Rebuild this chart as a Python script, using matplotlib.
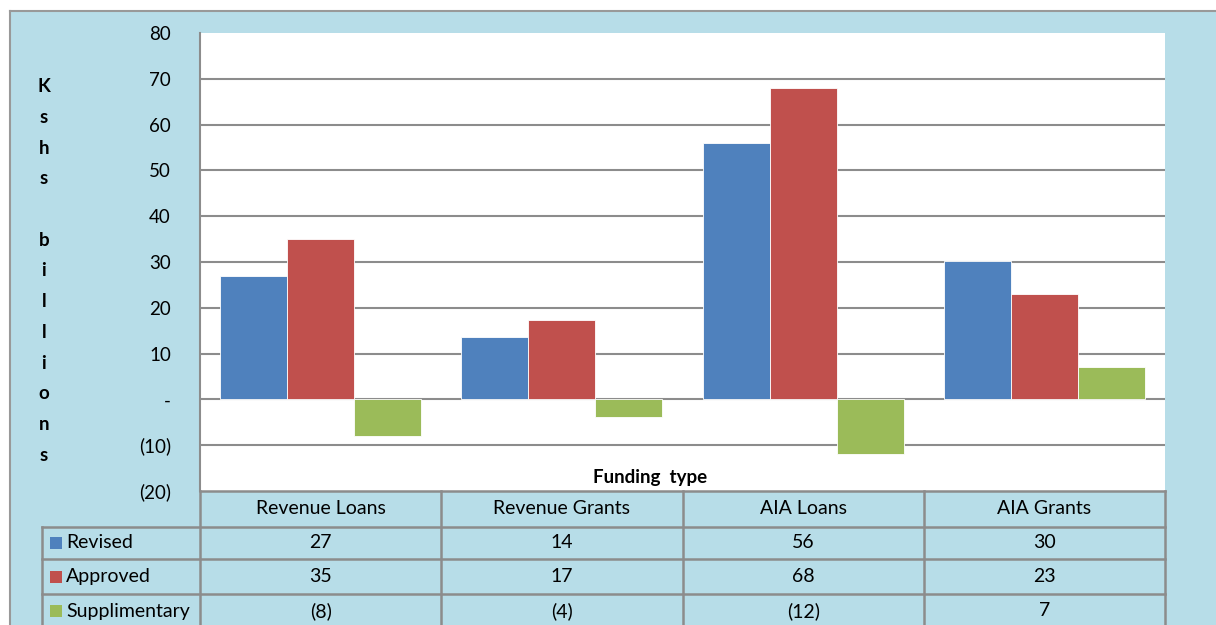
import matplotlib.pyplot as plt
from matplotlib.lines import Line2D
from matplotlib.patches import Rectangle
import matplotlib.transforms as mtransforms
import numpy as np

plt.rcParams['font.family'] = ['Lato', 'DejaVu Sans']

categories = ["Revenue Loans", "Revenue Grants", "AIA Loans", "AIA Grants"]
series_names = ["Revised", "Approved", "Supplimentary"]
revised = [26.9, 13.6, 56.0, 30.2]
approved = [35.0, 17.4, 68.0, 23.0]
supplementary = [-8.0, -3.8, -11.9, 7.1]
colors = ["#4f81bd", "#c0504d", "#9bbb59"]
yticks = [-20, -10, 0, 10, 20, 30, 40, 50, 60, 70, 80]

bg = "#b7dde8"
grid_col = "#8c8c8c"
W, H = 1216, 625


def fx(x):
    return x / W


def fy(y):
    return 1 - y / H


def fmt(v):
    if v == 0:
        return "-"
    if v < 0:
        return "(%d)" % round(-v)
    return "%d" % round(v)


fig = plt.figure(figsize=(W / 100, H / 100), dpi=100)
fig.patch.set_facecolor("white")

# light blue chart background with grey frame
fig.add_artist(Rectangle((fx(10), 0), 1 - fx(10), fy(11), transform=fig.transFigure,
                         facecolor=bg, edgecolor="none", zorder=0))
fig.add_artist(Line2D([fx(10), fx(10)], [0, fy(11)], transform=fig.transFigure, color="#999999", lw=1.5))
fig.add_artist(Line2D([fx(10), 1], [fy(11), fy(11)], transform=fig.transFigure, color="#999999", lw=1.5))

ax = fig.add_axes([fx(200), fy(491), fx(1165) - fx(200), fy(33) - fy(491)])
ax.set_facecolor("white")

x = np.arange(len(categories))
w = 0.278
all_series = [revised, approved, supplementary]
for i, (vals, c) in enumerate(zip(all_series, colors)):
    ax.bar(x + (i - 1) * w, vals, width=w, color=c, edgecolor="white", linewidth=0.6, zorder=3)

ax.set_xlim(-0.5, len(categories) - 0.5)
ax.set_ylim(-20, 80)
ax.set_yticks(yticks)
ax.set_yticklabels([fmt(v) for v in yticks], fontsize=13.5)
ax.tick_params(axis="y", length=0, pad=21)
ax.set_xticks([])
for yv in yticks[1:-1]:
    ax.axhline(yv, color=grid_col, lw=1.5, zorder=1)
for s in ["top", "right", "bottom"]:
    ax.spines[s].set_visible(False)
ax.spines["left"].set_color(grid_col)
ax.spines["left"].set_linewidth(1.5)

fig.text(fx(650), fy(478), "Funding  type", ha="center", va="center", fontsize=13.5,
         fontweight="bold")

# vertical axis title, one letter per line
fig.text(fx(44), fy(271), "\n".join(list("Kshs billions")), ha="center", va="center",
         fontsize=13.5, fontweight="bold", linespacing=1.98)

# data table below the plot
tb = mtransforms.blended_transform_factory(ax.transData, fig.transFigure)
line_kw = dict(transform=fig.transFigure, color=grid_col, lw=1.8, clip_on=False)
fig.add_artist(Line2D([fx(200), fx(1165)], [fy(491), fy(491)], **line_kw))
for yy in [527, 559, 594]:
    fig.add_artist(Line2D([fx(42), fx(1165)], [fy(yy), fy(yy)], **line_kw))
fig.add_artist(Line2D([fx(42), fx(42)], [fy(527), 0], **line_kw))
for xb in np.arange(len(categories) + 1) - 0.5:
    fig.add_artist(Line2D([xb, xb], [fy(491), 0], transform=tb, color=grid_col, lw=1.8, clip_on=False))

row_y = [543, 576.5, 611]
for xi, cat in zip(x, categories):
    fig.text(xi, fy(508), cat, transform=tb, ha="center", va="center", fontsize=14)
for r, (name, vals, c) in enumerate(zip(series_names, all_series, colors)):
    fig.add_artist(Rectangle((fx(50), fy(row_y[r] + 6)), fx(12), 12 / H, transform=fig.transFigure,
                             facecolor=c, edgecolor="none"))
    fig.text(fx(66), fy(row_y[r]), name, ha="left", va="center", fontsize=14)
    for xi, v in zip(x, vals):
        fig.text(xi, fy(row_y[r]), fmt(v), transform=tb, ha="center", va="center", fontsize=14)

fig.savefig("out.png", dpi=100, facecolor=fig.get_facecolor())
